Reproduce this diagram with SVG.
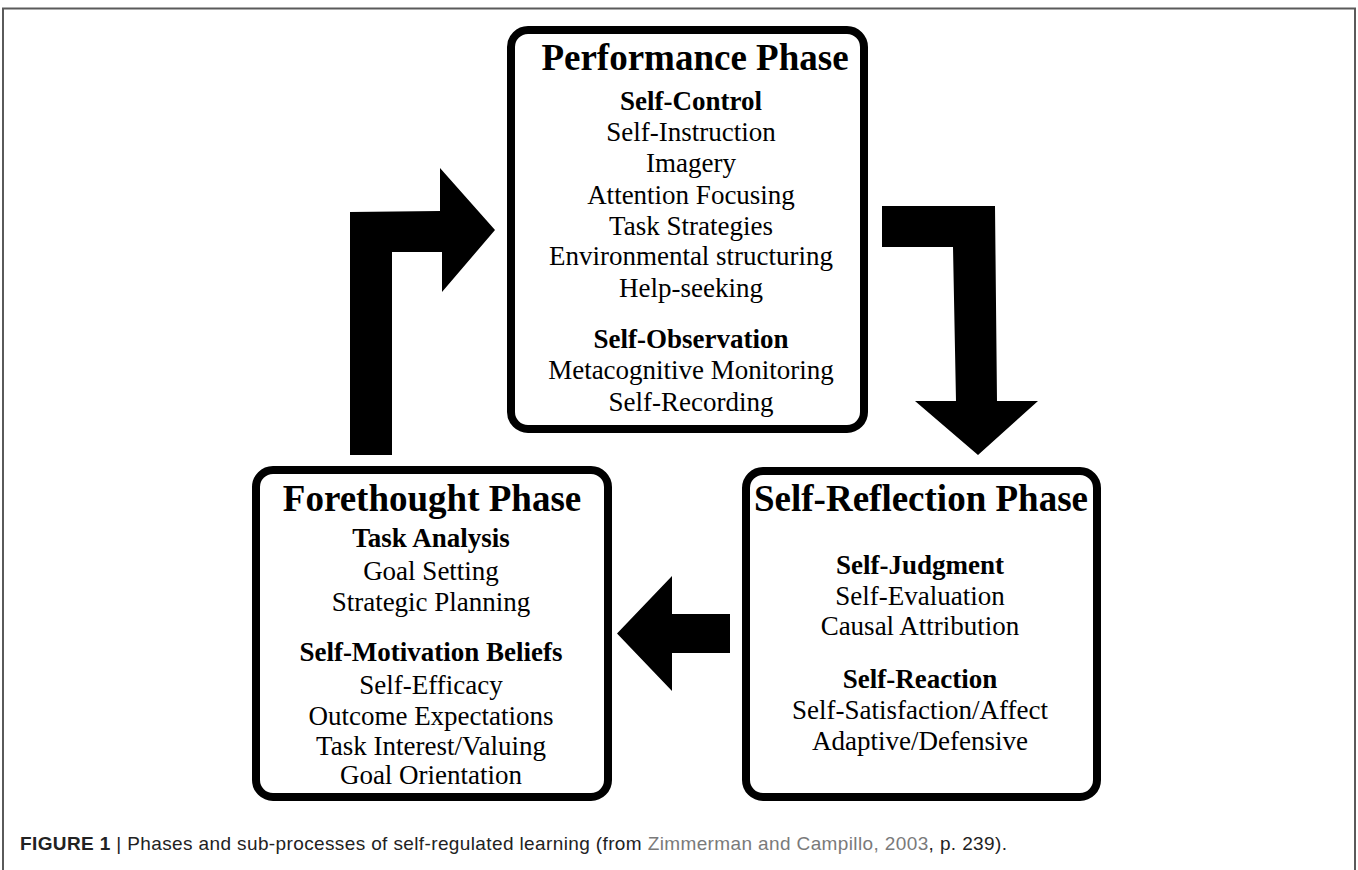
<svg xmlns="http://www.w3.org/2000/svg" width="1358" height="870" viewBox="0 0 1358 870">
  <style>
    .box { fill: #ffffff; stroke: #000000; stroke-width: 8; }
    .arrow { fill: #000000; stroke: none; }
    .title { font-family: "Liberation Serif", "Times New Roman", serif; font-weight: bold; font-size: 37px; fill: #000; text-anchor: middle; }
    .head { font-family: "Liberation Serif", "Times New Roman", serif; font-weight: bold; font-size: 27px; fill: #000; text-anchor: middle; }
    .item { font-family: "Liberation Serif", "Times New Roman", serif; font-size: 27px; fill: #000; text-anchor: middle; }
    .caption { font-family: "Liberation Sans", Arial, sans-serif; font-size: 19px; fill: #222; }
    .cap-bold { font-weight: bold; }
    .cap-link { fill: #7a7a7a; }
  </style>

  <rect width="1358" height="870" fill="#ffffff"/>

  <!-- page frame (open at the bottom) -->
  <path d="M3,870 V8.5 H1355 V870" fill="none" stroke="#5a5a5a" stroke-width="2"/>

  <!-- connectors: block arrows between the three phases -->
  <g id="connectors">
    <!-- forethought -> performance -->
    <polygon class="arrow" points="350,455 350,212 440,211 440,168 495,230 442,292 442,252 392,252 392,455"/>
    <!-- performance -> self-reflection -->
    <polygon class="arrow" points="882,206 995,206 997,401 1038,401 978,455 915,401 956,401 953,247 882,247"/>
    <!-- self-reflection -> forethought -->
    <polygon class="arrow" points="730,614 672,614 672,576 617,633.5 672,691 672,653 730,653"/>
  </g>

  <g id="performance-phase">
    <rect class="box" x="511" y="30" width="353" height="399" rx="17"/>
    <text class="title" x="695" y="70">Performance Phase</text>
    <text class="head" x="691" y="110">Self-Control</text>
    <text class="item" x="691" y="141">Self-Instruction</text>
    <text class="item" x="691" y="172">Imagery</text>
    <text class="item" x="691" y="204">Attention Focusing</text>
    <text class="item" x="691" y="235">Task Strategies</text>
    <text class="item" x="691" y="265">Environmental structuring</text>
    <text class="item" x="691" y="297">Help-seeking</text>
    <text class="head" x="691" y="348">Self-Observation</text>
    <text class="item" x="691" y="379">Metacognitive Monitoring</text>
    <text class="item" x="691" y="411">Self-Recording</text>
  </g>

  <g id="forethought-phase">
    <rect class="box" x="256" y="470" width="352" height="327" rx="17"/>
    <text class="title" x="432" y="511">Forethought Phase</text>
    <text class="head" x="431" y="547">Task Analysis</text>
    <text class="item" x="431" y="580">Goal Setting</text>
    <text class="item" x="431" y="611">Strategic Planning</text>
    <text class="head" x="431" y="661">Self-Motivation Beliefs</text>
    <text class="item" x="431" y="694">Self-Efficacy</text>
    <text class="item" x="431" y="725">Outcome Expectations</text>
    <text class="item" x="431" y="755">Task Interest/Valuing</text>
    <text class="item" x="431" y="784">Goal Orientation</text>
  </g>

  <g id="self-reflection-phase">
    <rect class="box" x="746" y="471" width="351" height="326" rx="17"/>
    <text class="title" x="921" y="511">Self-Reflection Phase</text>
    <text class="head" x="920" y="574">Self-Judgment</text>
    <text class="item" x="920" y="605">Self-Evaluation</text>
    <text class="item" x="920" y="635">Causal Attribution</text>
    <text class="head" x="920" y="688">Self-Reaction</text>
    <text class="item" x="920" y="719">Self-Satisfaction/Affect</text>
    <text class="item" x="920" y="750">Adaptive/Defensive</text>
  </g>

  <text class="caption" x="20" y="850" textLength="987" lengthAdjust="spacing"><tspan class="cap-bold">FIGURE 1</tspan> | Phases and sub-processes of self-regulated learning (from <tspan class="cap-link">Zimmerman and Campillo, 2003</tspan>, p. 239).</text>
</svg>
